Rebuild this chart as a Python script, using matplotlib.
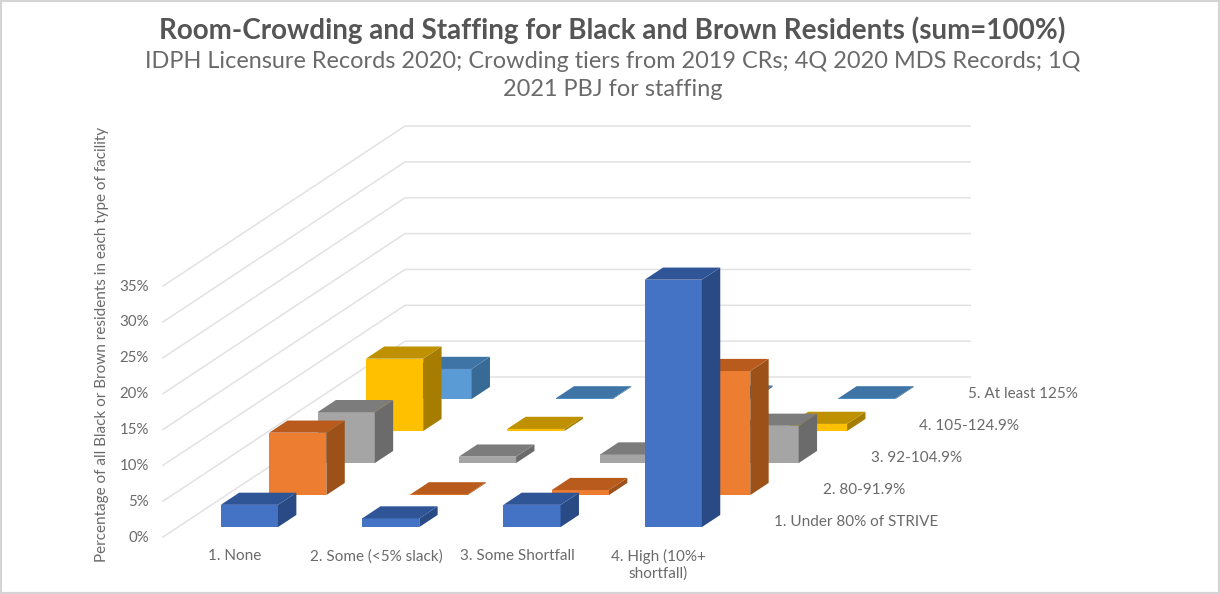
import matplotlib
matplotlib.use('Agg')
import matplotlib.pyplot as plt
from matplotlib.patches import Polygon, Rectangle

categories = ['1. None', '2. Some (<5% slack)', '3. Some Shortfall', '4. High (10%+\nshortfall)']
rows = ['1. Under 80% of STRIVE', '2. 80-91.9%', '3. 92-104.9%', '4. 105-124.9%', '5. At least 125%']
under_80 = [3.1, 1.2, 3.1, 34.5]
from_80 = [8.7, 0.1, 0.7, 17.3]
from_92 = [7.1, 0.9, 1.2, 5.2]
from_105 = [10.1, 0.3, 0.5, 1.0]
at_least_125 = [4.2, 0.1, 0.2, 0.1]
y_ticks = [0, 5, 10, 15, 20, 25, 30, 35]

series = [under_80, from_80, from_92, from_105, at_least_125]
# front, top, side
colors = [('#4472C4', '#2F5597', '#2A4A85'),
          ('#ED7D31', '#BA5B1E', '#9C5118'),
          ('#A5A5A5', '#7C7C7C', '#6B6B6B'),
          ('#FFC000', '#BF9000', '#A67D00'),
          ('#5B9BD5', '#3F75A6', '#386A96')]

TEXT = '#6a6a6a'
plt.rcParams['font.family'] = ['Lato', 'DejaVu Sans']

# oblique projection of the excel 3d chart, in image pixels
X0, Y0 = 163, 537
CAT_W = 141.3
ROW_DX, ROW_DY = 48.4, 32
PER_PCT = 7.17
BAR_W = 0.405
BAR_D = 0.38


def project(x, d, z):
    return (X0 + CAT_W * x + ROW_DX * d, Y0 - ROW_DY * d - PER_PCT * z)


fig = plt.figure(figsize=(12.2, 5.94), dpi=100)
ax = fig.add_axes([0, 0, 1, 1])
ax.set_xlim(0, 1220)
ax.set_ylim(594, 0)
ax.axis('off')

# frame of the screenshot
ax.add_patch(Rectangle((0, 0), 1220, 594, fill=False, ec='#d4d4d4', lw=3))

# gridlines on the side and back walls
n_cat = len(categories)
n_row = len(rows)
for t in y_ticks:
    pts = [project(0, 0, t), project(0, n_row, t), project(n_cat, n_row, t)]
    ax.plot([p[0] for p in pts], [p[1] for p in pts], color='#e2e2e2', lw=1.1, zorder=1)
    lx, ly = project(0, 0, t)
    ax.text(lx - 14, ly + 0.5, f'{t}%', ha='right', va='center', fontsize=10.8, color=TEXT)

# bars, back row first
zo = 2
for j in reversed(range(n_row)):
    front, top, side = colors[j]
    for i, v in enumerate(series[j]):
        x0 = i + (1 - BAR_W) / 2 + 0.005
        x1 = x0 + BAR_W
        d0 = j + (1 - BAR_D) / 2
        d1 = d0 + BAR_D
        ax.add_patch(Polygon([project(x0, d0, 0), project(x1, d0, 0), project(x1, d0, v), project(x0, d0, v)],
                             fc=front, ec='none', zorder=zo))
        ax.add_patch(Polygon([project(x1, d0, 0), project(x1, d1, 0), project(x1, d1, v), project(x1, d0, v)],
                             fc=side, ec='none', zorder=zo))
        ax.add_patch(Polygon([project(x0, d0, v), project(x1, d0, v), project(x1, d1, v), project(x0, d1, v)],
                             fc=top, ec='none', zorder=zo))
        zo += 1

for i, name in enumerate(categories):
    cx = project(i + 0.5, 0, 0)[0] + 1
    ax.text(cx, 549, name, ha='center', va='top', fontsize=11, color=TEXT, linespacing=1.2)

for j, name in enumerate(rows):
    lx, ly = project(n_cat, j, 0)
    ax.text(lx + 46, ly - 15, name, ha='left', va='center', fontsize=11, color=TEXT)

ax.text(102, 344, 'Percentage of all Black or Brown residents in each type of facility', rotation=90,
        ha='center', va='center', fontsize=11, color=TEXT)

ax.text(612, 30, 'Room-Crowding and Staffing for Black and Brown Residents (sum=100%)',
        ha='center', va='center', fontsize=20, fontweight='bold', color='#555555')
ax.text(613, 61.5, 'IDPH Licensure Records 2020; Crowding tiers from 2019 CRs; 4Q 2020 MDS Records; 1Q',
        ha='center', va='center', fontsize=16.9, color=TEXT)
ax.text(613, 89.5, '2021 PBJ for staffing', ha='center', va='center', fontsize=16.9, color=TEXT)

fig.savefig('out.png', dpi=100)
